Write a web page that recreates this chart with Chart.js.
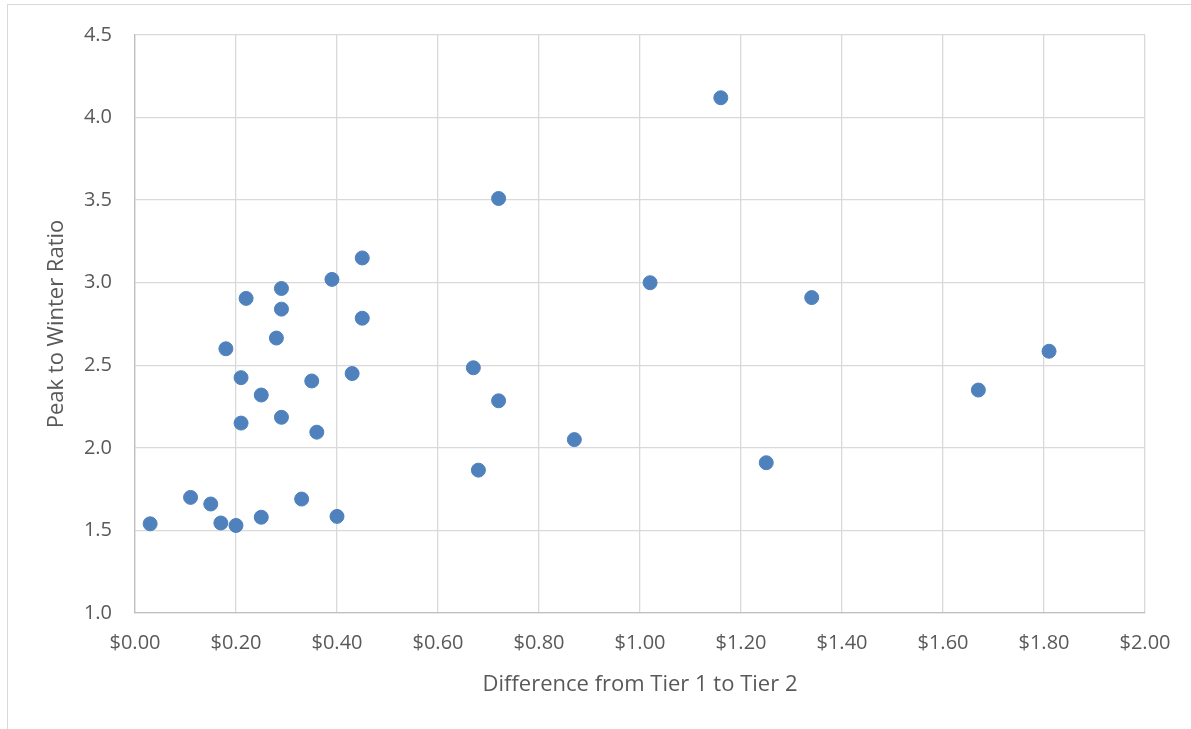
<!DOCTYPE html>
<html lang="en">
<head>
  <meta charset="UTF-8" />
  <title>Peak to Winter Ratio</title>
  <script src="https://cdn.jsdelivr.net/npm/chart.js"></script>
  <style>
    html, body { margin: 0; padding: 0; background: #fff; }
    .frame {
      position: absolute; left: 7px; top: 4px; width: 1250px; height: 800px;
      border: 1px solid #d9d9d9; box-sizing: border-box;
    }
    .wrap { position: absolute; left: 0; top: 0; width: 1191px; height: 729px; }
  </style>
</head>
<body>
  <div class="frame"></div>
  <div class="wrap"><canvas id="scatter" width="1191" height="729"></canvas></div>

  <script>
    // Difference from Tier 1 to Tier 2 ($)
    const tierDiff = [
      0.03, 0.11, 0.15, 0.17, 0.20, 0.25, 0.33, 0.40,
      0.21, 0.29, 0.36, 0.25, 0.35, 0.21, 0.43, 0.18,
      0.28, 0.29, 0.45, 0.22, 0.29, 0.39, 0.45,
      1.16, 0.72, 1.02, 1.34, 0.67, 0.72, 0.87, 1.25, 0.68,
      1.67, 1.81
    ];
    // Peak to winter ratio
    const peakRatio = [
      1.54, 1.70, 1.66, 1.545, 1.53, 1.58, 1.69, 1.585,
      2.15, 2.185, 2.095, 2.32, 2.405, 2.425, 2.45, 2.60,
      2.665, 2.84, 2.785, 2.905, 2.965, 3.02, 3.15,
      4.12, 3.51, 3.00, 2.91, 2.485, 2.285, 2.05, 1.91, 1.865,
      2.35, 2.585
    ];
    const xTicks = [0, 0.2, 0.4, 0.6, 0.8, 1.0, 1.2, 1.4, 1.6, 1.8, 2.0];
    const yTicks = [1.0, 1.5, 2.0, 2.5, 3.0, 3.5, 4.0, 4.5];

    const points = tierDiff.map((x, i) => ({ x: x, y: peakRatio[i] }));
    const textColor = "#595959";
    const gridColor = "#d9d9d9";

    new Chart(document.getElementById("scatter").getContext("2d"), {
      type: "scatter",
      data: {
        datasets: [{
          label: "Peak to Winter Ratio",
          data: points,
          backgroundColor: "#4f81bd",
          borderColor: "#4f81bd",
          borderWidth: 1,
          pointRadius: 7,
          pointHoverRadius: 7
        }]
      },
      options: {
        responsive: false,
        animation: false,
        layout: { padding: { left: 0, top: 33, right: 46, bottom: 0 } },
        plugins: { legend: { display: false }, tooltip: { enabled: false } },
        scales: {
          x: {
            type: "linear",
            min: 0, max: 2,
            afterBuildTicks: (s) => { s.ticks = xTicks.map(v => ({ value: v })); },
            afterFit: (s) => { s.height = 116; },
            grid: { color: gridColor, lineWidth: 1.3, drawTicks: false },
            border: { color: "#bfbfbf", width: 1.3 },
            ticks: {
              padding: 18,
              color: textColor,
              font: { family: "Open Sans", size: 20 },
              callback: (v) => "$" + Number(v).toFixed(2)
            },
            title: {
              display: true,
              text: "Difference from Tier 1 to Tier 2",
              color: textColor,
              font: { family: "Open Sans", size: 22 },
              padding: { top: 0, bottom: 31 }
            }
          },
          y: {
            type: "linear",
            min: 1, max: 4.5,
            afterBuildTicks: (s) => { s.ticks = yTicks.map(v => ({ value: v })); },
            afterFit: (s) => { s.width = 135; },
            grid: { color: gridColor, lineWidth: 1.3, drawTicks: false },
            border: { color: "#bfbfbf", width: 1.3 },
            ticks: {
              padding: 23,
              color: textColor,
              font: { family: "Open Sans", size: 20 },
              callback: (v) => Number(v).toFixed(1)
            },
            title: {
              display: true,
              text: "Peak to Winter Ratio",
              color: textColor,
              font: { family: "Open Sans", size: 22 },
              padding: { top: 44, bottom: 0 }
            }
          }
        }
      }
    });
  </script>
</body>
</html>
